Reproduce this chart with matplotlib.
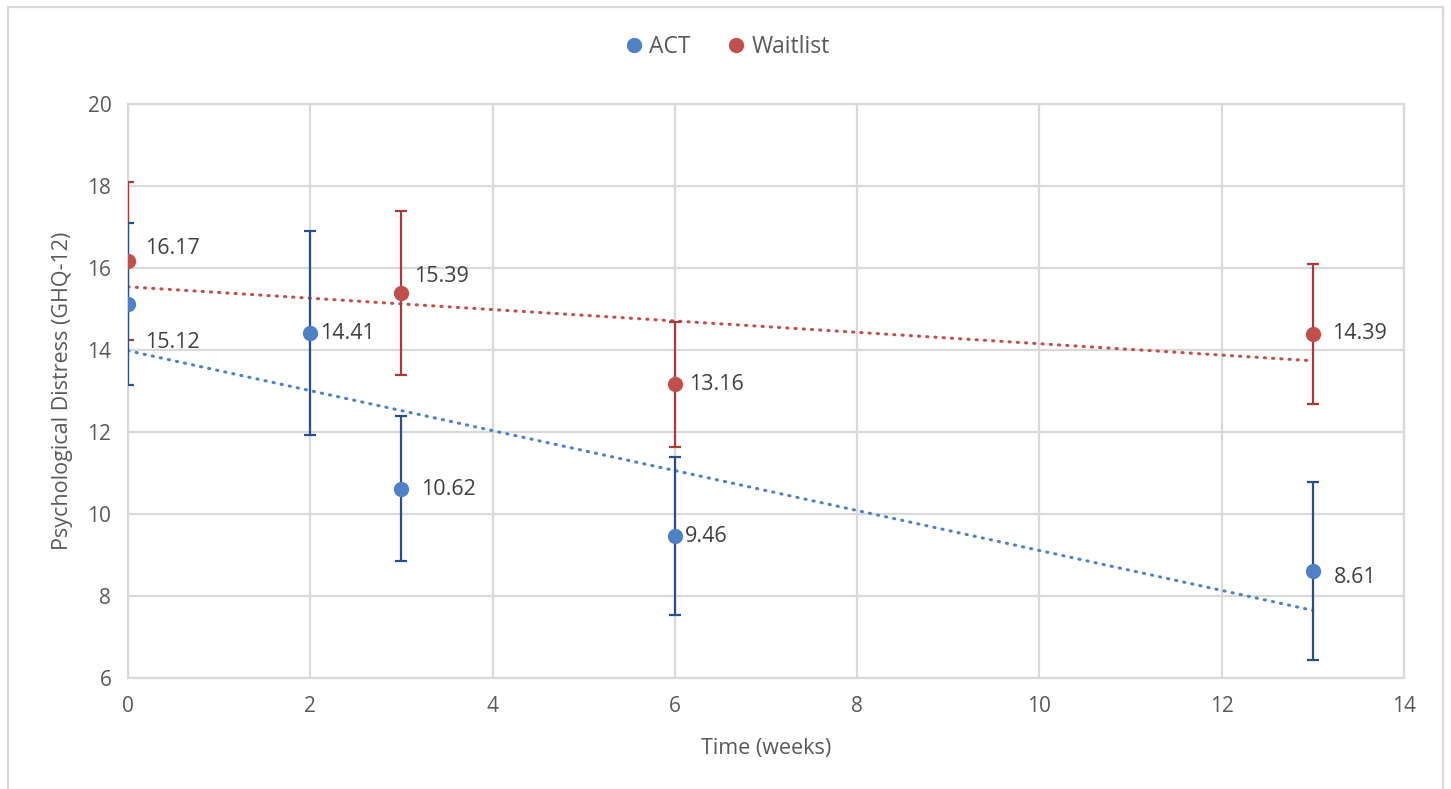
import numpy as np
import matplotlib
matplotlib.use("Agg")
import matplotlib.pyplot as plt
from matplotlib.patches import Rectangle
from matplotlib.lines import Line2D

plt.rcParams['font.family'] = ['Open Sans', 'DejaVu Sans']

# GHQ-12 means and error bar half-widths per group
act_weeks = [0, 2, 3, 6, 13]
act_mean = [15.12, 14.41, 10.62, 9.46, 8.61]
act_err = [1.97, 2.49, 1.77, 1.93, 2.17]

wait_weeks = [0, 3, 6, 13]
wait_mean = [16.17, 15.39, 13.16, 14.39]
wait_err = [1.93, 2.01, 1.53, 1.71]

# label offsets (points) for the value labels
act_offsets = [(12, -28), (7, 0), (14, -1), (7, 0), (15, -5)]
wait_offsets = [(12, 9), (9, 12), (10, 0), (14, 0)]

blue = '#4F81C4'
blue_dark = '#2A4E8C'
red = '#C0504D'
red_dark = '#A83A3A'
grid_c = '#D9D9D9'
text_c = '#595959'

fig = plt.figure(figsize=(14.51, 7.89), dpi=100)
ax = fig.add_axes([0.0882, 0.1407, 0.8794, 0.7275])

# outer chart border (display coords, origin bottom-left; open at the bottom)
fig.patches.append(Rectangle((8, -20), 1435, 802, transform=None, fill=False,
                             edgecolor=grid_c, linewidth=1.6))

def draw_group(x, y, err, offsets, col, col_dark):
    ax.errorbar(x, y, yerr=err, fmt='none', ecolor=col_dark, elinewidth=1.6,
                capsize=4.5, capthick=1.6, zorder=3)
    ax.plot(x, y, 'o', color=col, markersize=10, zorder=4)
    # linear trend over the observed range
    k, b = np.polyfit(x, y, 1)
    xs = np.array([min(x), max(x)])
    ax.plot(xs, k * xs + b, color=col, linewidth=2.2,
            linestyle=(0, (0.4, 2.3)), dash_capstyle='round', zorder=2)
    for xi, yi, (dx, dy) in zip(x, y, offsets):
        ax.annotate(f'{yi:.2f}', (xi, yi), xytext=(dx, dy),
                    textcoords='offset points', ha='left', va='center',
                    fontsize=15.5, color='#404040', zorder=5)

draw_group(wait_weeks, wait_mean, wait_err, wait_offsets, red, red_dark)
draw_group(act_weeks, act_mean, act_err, act_offsets, blue, blue_dark)

ax.set_xlim(0, 14)
ax.set_ylim(6, 20)
ax.set_xticks(np.arange(0, 15, 2))
ax.set_yticks(np.arange(6, 21, 2))
ax.grid(True, color=grid_c, linewidth=1.6, zorder=0)
ax.set_axisbelow(True)
for s in ax.spines.values():
    s.set_color(grid_c)
    s.set_linewidth(1.6)
ax.tick_params(length=0, labelsize=15, labelcolor=text_c)
ax.tick_params(axis='y', pad=12)
ax.tick_params(axis='x', pad=13)

ax.set_xlabel('Time (weeks)', fontsize=15.5, color=text_c, labelpad=15)
ax.set_ylabel('Psychological Distress (GHQ-12)', fontsize=15.5, color=text_c,
              labelpad=10)

handles = [Line2D([], [], marker='o', linestyle='none', color=blue,
                  markersize=10, label='ACT'),
           Line2D([], [], marker='o', linestyle='none', color=red,
                  markersize=10, label='Waitlist')]
fig.legend(handles=handles, loc='center', bbox_to_anchor=(0.502, 0.94), ncol=2,
           frameon=False, fontsize=16.5, labelcolor=text_c, handlelength=0.6,
           handletextpad=0.35, columnspacing=1.7)

fig.savefig('out.png', dpi=100)
